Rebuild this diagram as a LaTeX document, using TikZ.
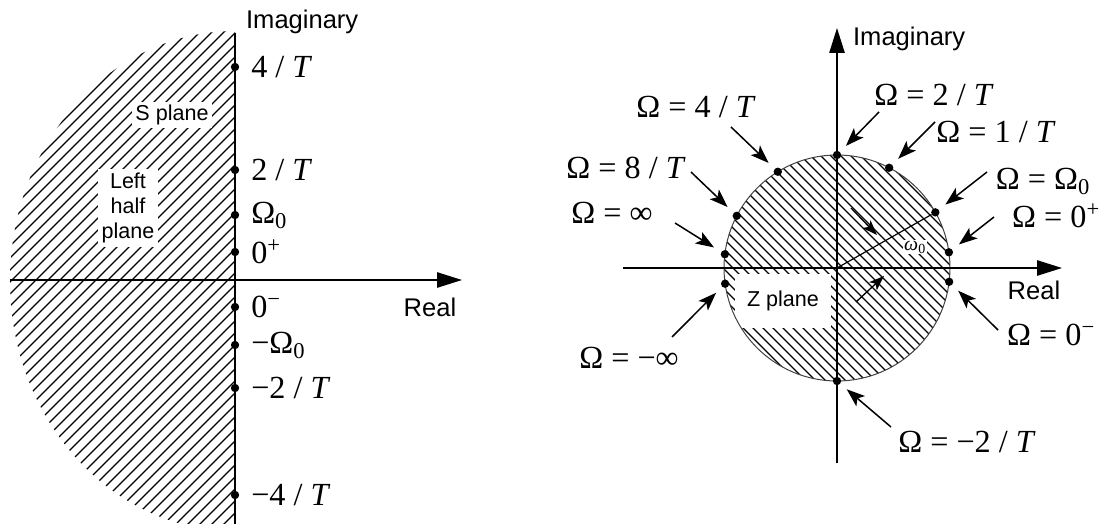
\documentclass[tikz,border=0pt]{standalone}
\usepackage{fontspec}
\setmainfont{Liberation Serif}
\setsansfont{Liberation Sans}
\usetikzlibrary{arrows.meta,positioning,calc}

\begin{document}
\begin{tikzpicture}[
  x=0.3mm,y=0.3mm,
  axis/.style={line width=0.5mm},
  axarr/.style={axis,-{Triangle[length=7.5mm,width=4.6mm]}},
  hatch/.style={line width=0.4mm},
  dot/.style={circle,fill,inner sep=0pt,minimum size=2.5mm},
  val/.style={font=\fontsize{27.5}{31}\selectfont,inner sep=0pt},
  axlab/.style={font=\fontsize{21.8}{26}\selectfont\sffamily},
  plab/.style={font=\fontsize{18.4}{21.5}\selectfont\sffamily,fill=white,inner sep=1mm,align=center},
  arr/.style={-{Stealth[length=5.5mm,width=4mm,inset=1.3mm]},line width=0.45mm,shorten >=2.5mm},
  node distance=3.5mm
]
\useasboundingbox (0,0) rectangle (1107,-524);

% s plane
\begin{scope}
  \clip (235,-31) arc[start angle=90,end angle=270,x radius=67.5mm,y radius=75mm] -- cycle;
  \foreach \k in {0,...,62} \draw[hatch] (12*\k-500,-540) -- (12*\k+20,-20);
\end{scope}
\draw[axis] (235,-33) -- (235,-524);
\draw[axarr] (10,-280) -- (462,-280);
\node[axlab,anchor=west] (simag) at (242,-22) {Imaginary};
\node[axlab] (sreal) at (430,-307) {Real};
\node[plab] (splane) at (172,-115) {S plane};
\node[plab] (lhp) at (128,-208) {Left\\half\\plane};

\node[dot] (s4) at (235,-67) {};
\node[dot] (s2) at (235,-170) {};
\node[dot] (so) at (235,-215) {};
\node[dot] (sp) at (235,-252) {};
\node[dot] (sm) at (235,-307) {};
\node[dot] (smo) at (235,-345) {};
\node[dot] (sm2) at (235,-388) {};
\node[dot] (sm4) at (235,-495) {};
\node[val,right=of s4] {4 / \textit{T}};
\node[val,right=of s2] {2 / \textit{T}};
\node[val,right=of so] {Ω\textsubscript{0}};
\node[val,right=of sp] {0\textsuperscript{+}};
\node[val,right=of sm] {0\textsuperscript{−}};
\node[val,right=of smo] {−Ω\textsubscript{0}};
\node[val,right=of sm2] {−2 / \textit{T}};
\node[val,right=of sm4] {−4 / \textit{T}};

% z plane
\coordinate (zc) at (837,-268);
\begin{scope}
  \clip (zc) circle[radius=33.9mm];
  \foreach \k in {0,...,33} \draw[hatch] (10*\k+545,-140) -- (10*\k+805,-400);
  \node[plab,minimum width=29mm,minimum height=16mm] (zplane) at (783,-301) {Z plane};
\end{scope}
\draw[black!75,line width=0.3mm] (zc) circle[radius=33.9mm];
\draw[axarr] (623,-268) -- (1062,-268);
\draw[axarr] (837,-463) -- (837,-28);
\node[axlab,anchor=west] (zimag) at (849,-39) {Imaginary};
\node[axlab] (zreal) at (1034,-290) {Real};

\node[dot] (z2) at ([shift={(90:33.9mm)}]zc) {};
\node[dot] (z1) at ([shift={(62.5:33.9mm)}]zc) {};
\node[dot] (zo) at ([shift={(29.5:33.9mm)}]zc) {};
\node[dot] (zp) at ([shift={(8:33.9mm)}]zc) {};
\node[dot] (zm) at ([shift={(-7:33.9mm)}]zc) {};
\node[dot] (zm2) at ([shift={(-90:33.9mm)}]zc) {};
\node[dot] (zmi) at ([shift={(188:33.9mm)}]zc) {};
\node[dot] (zi) at ([shift={(173:33.9mm)}]zc) {};
\node[dot] (z8) at ([shift={(152.5:33.9mm)}]zc) {};
\node[dot] (z4) at ([shift={(121.6:33.9mm)}]zc) {};

\draw[line width=0.35mm] (zc) -- (zo);
\node[font=\fontsize{17}{19}\selectfont,fill=white,inner sep=0.3mm] (w0) at (915,-247) {\textit{ω}\textsubscript{0}};
\draw[-{Stealth[length=4.5mm,width=3.3mm,inset=1.1mm]},line width=0.4mm] (851,-208) -- (877,-235);
\draw[-{Stealth[length=4.5mm,width=3.3mm,inset=1.1mm]},line width=0.4mm] (856,-302) -- (884,-276);

\node[val] (l4) at (696,-107) {Ω = 4 / \textit{T}};
\node[val] (l2) at (934,-95) {Ω = 2 / \textit{T}};
\node[val] (l1) at (996,-132) {Ω = 1 / \textit{T}};
\node[val] (l8) at (626,-168) {Ω = 8 / \textit{T}};
\node[val] (lo) at (1043,-181) {Ω = Ω\textsubscript{0}};
\node[val] (li) at (612,-213) {Ω = ∞};
\node[val] (lp) at (1056,-216) {Ω = 0\textsuperscript{+}};
\node[val] (lmi) at (629,-358) {Ω = −∞};
\node[val] (lm) at (1051,-335) {Ω = 0\textsuperscript{−}};
\node[val] (lm2) at (967,-442) {Ω = −2 / \textit{T}};

\coordinate (t4) at (731,-127);
\coordinate (t2) at (879,-112);
\coordinate (t1) at (935,-122);
\coordinate (t8) at (691,-172);
\coordinate (to) at (987,-172);
\coordinate (ti) at (675,-223);
\coordinate (tp) at (994,-217);
\coordinate (tmi) at (672,-337);
\coordinate (tm) at (998,-330);
\coordinate (tm2) at (891,-427);
\draw[arr] (t4) -- (z4);
\draw[arr] (t2) -- (z2);
\draw[arr] (t1) -- (z1);
\draw[arr] (t8) -- (z8);
\draw[arr] (to) -- (zo);
\draw[arr] (ti) -- (zi);
\draw[arr] (tp) -- (zp);
\draw[arr] (tmi) -- (zmi);
\draw[arr] (tm) -- (zm);
\draw[arr] (tm2) -- (zm2);
\end{tikzpicture}
\end{document}
